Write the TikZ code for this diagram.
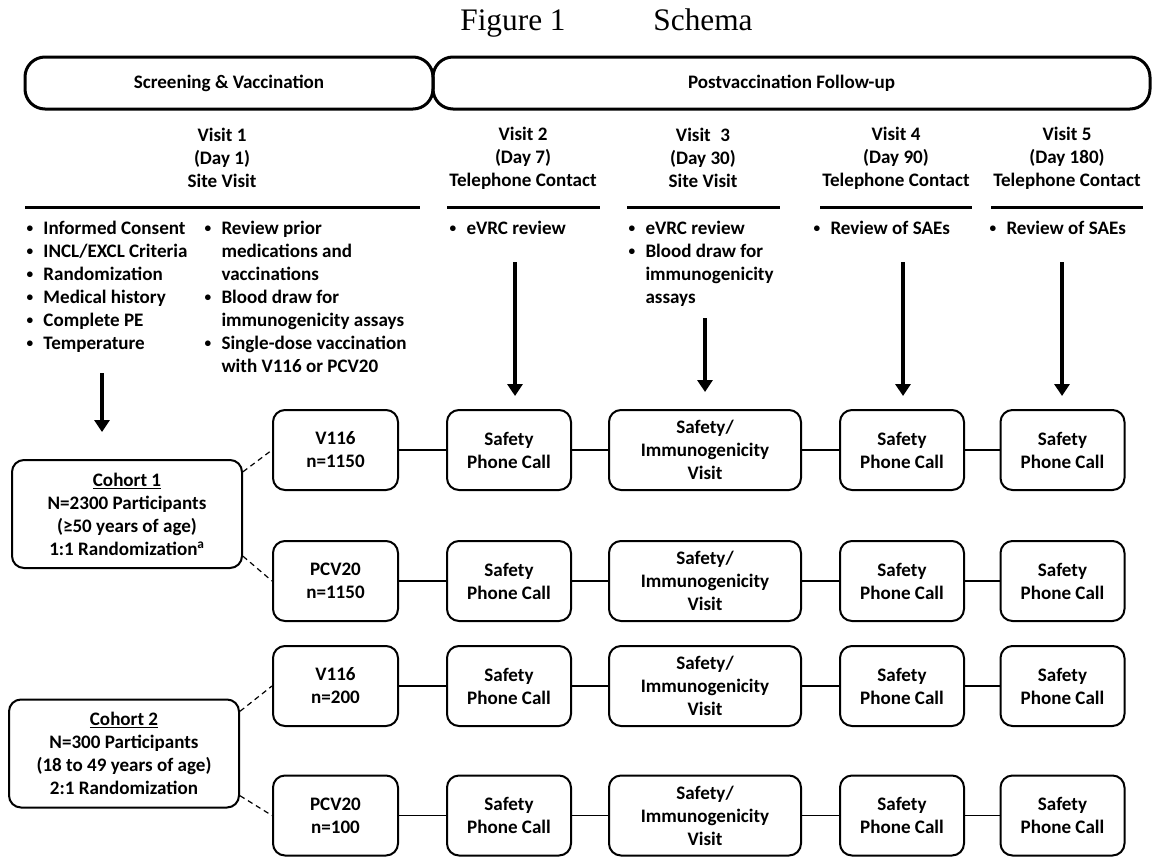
\documentclass[tikz,border=0pt]{standalone}
\usepackage{fontspec}
\setmainfont{Carlito}
\newfontfamily\titlefont{Liberation Serif}
\usetikzlibrary{arrows.meta}

\tikzset{every picture/.style={line width=0.75pt}}
\tikzset{
  band/.style={draw, line width=2.25pt, rounded corners=15pt, minimum height=39pt, inner sep=0pt},
  smallbox/.style={draw, line width=1.5pt, rounded corners=9pt, minimum width=93pt, minimum height=60pt, align=center, inner sep=0pt},
  widebox/.style={smallbox, minimum width=144pt},
  cohortbox/.style={smallbox, minimum width=172.5pt, minimum height=81pt},
  titletext/.style={anchor=base, inner sep=0pt, font=\titlefont\fontsize{23.5}{28}\selectfont},
  rulebar/.style={line width=2.25pt},
  link/.style={line width=1pt},
  dashlink/.style={line width=0.9pt, dash pattern=on 4pt off 3pt},
  bigarrow/.style={line width=3pt, -{Triangle[width=11.25pt,length=9pt]}},
}
\newcommand{\bulmark}{\makebox[12.75pt][l]{\raisebox{1.6pt}{\scalebox{0.7}{•}}}}
\newcommand{\bulindent}{\hspace*{12.75pt}}

\begin{document}
\begin{tikzpicture}[x=0.75pt,y=0.75pt,yscale=-1,xscale=1, font=\bfseries\fontsize{14.3}{17.25}\selectfont]
\useasboundingbox (0,0) rectangle (1152,857);

% Title
\draw (513,30) node (fig) [titletext] {Figure 1};
\draw (703,30) node (sch) [titletext] {Schema};

% Phase bands
\node (scr) [band, minimum width=306pt] at (229,83) {Screening \& Vaccination};
\node (post) [band, minimum width=537.75pt] at (791.5,83) {Postvaccination Follow-up};

% Text Node
\draw (222,158) node (h1) [align=center] {Visit 1\\(Day 1)\\Site Visit};
% Text Node
\draw (523,158) node (h2) [align=center] {Visit 2\\(Day 7)\\Telephone Contact};
% Text Node
\draw (703,158) node (h3) [align=center] {Visit\enspace3\\(Day 30)\\Site Visit};
% Text Node
\draw (896,158) node (h4) [align=center] {Visit 4\\(Day 90)\\Telephone Contact};
% Text Node
\draw (1067,158) node (h5) [align=center] {Visit 5\\(Day 180)\\Telephone Contact};

%Straight Lines
\draw [rulebar] (25,207) -- (420,207) ;
\draw [rulebar] (447,207) -- (600,207) ;
\draw [rulebar] (627,207) -- (780,207) ;
\draw [rulebar] (820,207) -- (972,207) ;
\draw [rulebar] (991,207) -- (1143,207) ;

% Text Node
\draw (25,220) node (l1a) [anchor=north west][inner sep=0.75pt][align=left] {\bulmark Informed Consent\\\bulmark INCL/EXCL Criteria\\\bulmark Randomization\\\bulmark Medical history\\\bulmark Complete PE\\\bulmark Temperature};
% Text Node
\draw (203,220) node (l1b) [anchor=north west][inner sep=0.75pt][align=left] {\bulmark Review prior\\\bulindent medications and\\\bulindent vaccinations\\\bulmark Blood draw for\\\bulindent immunogenicity assays\\\bulmark Single-dose vaccination\\\bulindent with V116 or PCV20};
% Text Node
\draw (448,220) node (l2) [anchor=north west][inner sep=0.75pt][align=left] {\bulmark eVRC review};
% Text Node
\draw (627,220) node (l3) [anchor=north west][inner sep=0.75pt][align=left] {\bulmark eVRC review\\\bulmark Blood draw for\\\bulindent immunogenicity\\\bulindent assays};
% Text Node
\draw (812,220) node (l4) [anchor=north west][inner sep=0.75pt][align=left] {\bulmark Review of SAEs};
% Text Node
\draw (988,220) node (l5) [anchor=north west][inner sep=0.75pt][align=left] {\bulmark Review of SAEs};

% Cohorts
\node (c1) [cohortbox] at (127,514) {\underline{Cohort 1}\\N=2300 Participants\\(≥50 years of age)\\1:1 Randomization\textsuperscript{a}};
\node (c2) [cohortbox] at (124,753.5) {\underline{Cohort 2}\\N=300 Participants\\(18 to 49 years of age)\\2:1 Randomization};

% Row 1
\node (v11) [smallbox, minimum width=93.75pt] at (335.5,450) {V116\\n=1150};
\node (s21) [smallbox] at (509,450) {Safety\\Phone Call};
\node (s31) [widebox] at (705,450) {Safety/\\Immunogenicity\\Visit};
\node (s41) [smallbox] at (902,450) {Safety\\Phone Call};
\node (s51) [smallbox] at (1062.5,450) {Safety\\Phone Call};
% Row 2
\node (v12) [smallbox, minimum width=93.75pt] at (335.5,581) {PCV20\\n=1150};
\node (s22) [smallbox] at (509,581) {Safety\\Phone Call};
\node (s32) [widebox] at (705,581) {Safety/\\Immunogenicity\\Visit};
\node (s42) [smallbox] at (902,581) {Safety\\Phone Call};
\node (s52) [smallbox] at (1062.5,581) {Safety\\Phone Call};
% Row 3
\node (v13) [smallbox, minimum width=93.75pt] at (335.5,686) {V116\\n=200};
\node (s23) [smallbox] at (509,686) {Safety\\Phone Call};
\node (s33) [widebox] at (705,686) {Safety/\\Immunogenicity\\Visit};
\node (s43) [smallbox] at (902,686) {Safety\\Phone Call};
\node (s53) [smallbox] at (1062.5,686) {Safety\\Phone Call};
% Row 4
\node (v14) [smallbox, minimum width=93.75pt] at (335.5,815.5) {PCV20\\n=100};
\node (s24) [smallbox] at (509,815.5) {Safety\\Phone Call};
\node (s34) [widebox] at (705,815.5) {Safety/\\Immunogenicity\\Visit};
\node (s44) [smallbox] at (902,815.5) {Safety\\Phone Call};
\node (s54) [smallbox] at (1062.5,815.5) {Safety\\Phone Call};

% Row links
\draw [link] (v11) -- (s21) (s21) -- (s31) (s31) -- (s41) (s41) -- (s51) ;
\draw [link] (v12) -- (s22) (s22) -- (s32) (s32) -- (s42) (s42) -- (s52) ;
\draw [link] (v13) -- (s23) (s23) -- (s33) (s33) -- (s43) (s43) -- (s53) ;
\draw [link] (v14) -- (s24) (s24) -- (s34) (s34) -- (s44) (s44) -- (s54) ;

% Randomization
\draw [dashlink] (c1.20) -- (v11.west) ;
\draw [dashlink] (c1.-20) -- (v12.west) ;
\draw [dashlink] (c2.20) -- (v13.west) ;
\draw [dashlink] (c2.-20) -- (v14.west) ;

% Arrows
\coordinate (a1) at (102,373);
\coordinate (a2) at (515,262);
\coordinate (a3) at (705,318);
\coordinate (a4) at (903,262);
\coordinate (a5) at (1062,262);
\draw [bigarrow, shorten >=20.25pt] (a1) -- (a1 |- c1.north) ;
\draw [bigarrow, shorten >=9.75pt] (a2) -- (a2 |- s21.north) ;
\draw [bigarrow, shorten >=12.75pt] (a3) -- (a3 |- s31.north) ;
\draw [bigarrow, shorten >=9.75pt] (a4) -- (a4 |- s41.north) ;
\draw [bigarrow, shorten >=9.75pt] (a5) -- (a5 |- s51.north) ;

\end{tikzpicture}
\end{document}
